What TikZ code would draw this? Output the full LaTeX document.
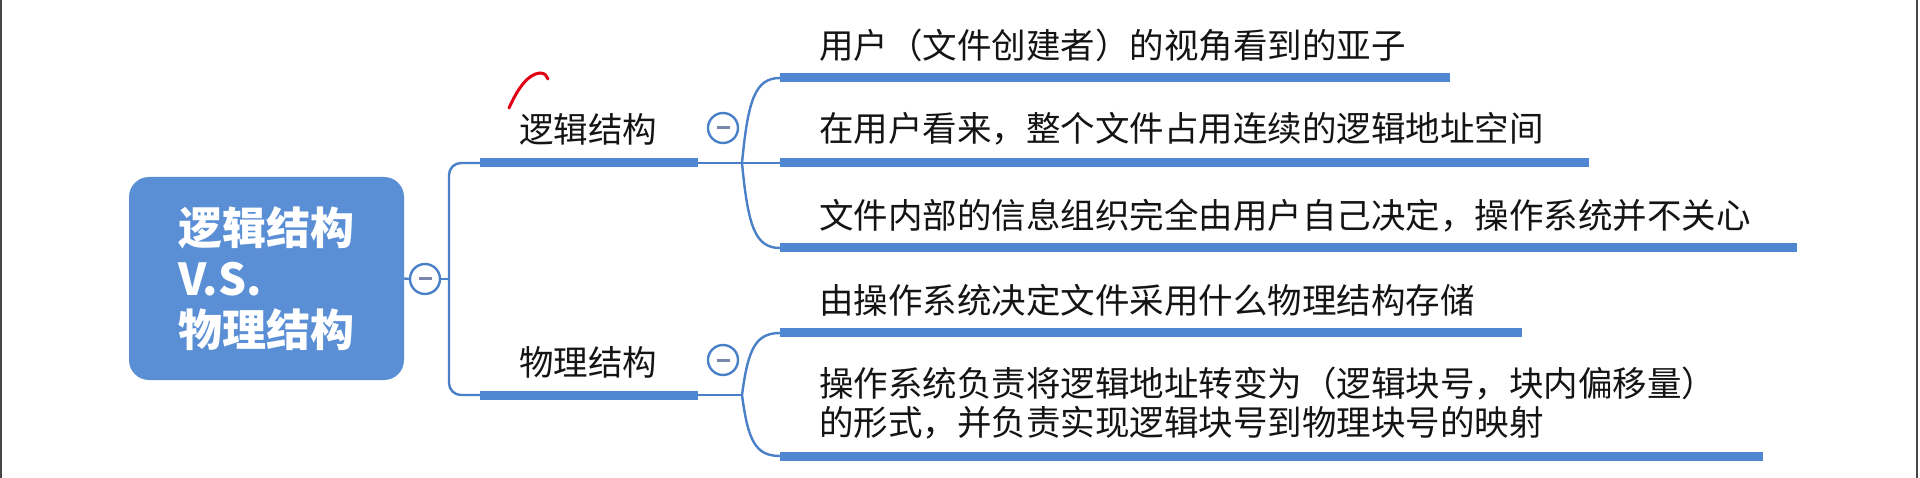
\documentclass[tikz,border=0pt]{standalone}
\usepackage{fontspec}
\setmainfont{Noto Sans CJK SC}
\definecolor{lineblue}{RGB}{74,128,200}
\definecolor{barblue}{RGB}{79,135,210}
\definecolor{rootfill}{RGB}{90,143,213}
\definecolor{minusgray}{RGB}{120,135,170}
\definecolor{textblack}{RGB}{20,20,20}
\definecolor{framegray}{RGB}{70,70,70}
\definecolor{penred}{RGB}{225,0,20}
\begin{document}
\begin{tikzpicture}[x=1pt,y=-1pt,
  link/.style={draw=lineblue, line width=2.4pt},
  bar/.style={draw=barblue, line width=9pt},
  toggle/.style={circle, draw=lineblue, line width=2.4pt, fill=white,
    minimum size=30pt, inner sep=0pt,
    path picture={\draw[minusgray, line width=3pt]
      ([xshift=-6.5pt]path picture bounding box.center) -- ([xshift=6.5pt]path picture bounding box.center);}},
  lbl/.style={anchor=base west, inner sep=0pt, text=textblack,
    font=\fontsize{34.5}{39}\selectfont},
  rootbox/.style={rectangle, rounded corners=20pt, fill=rootfill, draw=none,
    minimum width=275pt, minimum height=203pt, align=left, text=white,
    font=\fontsize{44}{51}\selectfont\bfseries},
]
\useasboundingbox (0,0) rectangle (1920,478);
\fill[white] (0,0) rectangle (1920,478);
% frame
\draw[framegray, line width=2pt] (1,0) -- (1,478);
\draw[framegray, line width=2pt] (1917,0) -- (1917,478);

% root
\node[rootbox] (root) at (266.5,278.5) {逻辑结构\\V.S.\\物理结构};
\node[toggle] (c0) at (425,279) {};
\coordinate (j0) at (449,279);

% level 1 coordinates
\coordinate (a0) at (480,163);
\coordinate (a1) at (698,163);
\coordinate (ja) at (742,163);
\coordinate (b0) at (480,395);
\coordinate (b1) at (698,395);
\coordinate (jb) at (742,395);

\draw[link] (root.east) -- (c0.west);
\draw[link] (c0.east) -- (j0);
\draw[link, rounded corners=12pt] (a0) -- (j0 |- a0) -- (j0 |- b0) -- (b0);
\draw[bar] (a0) -- (a1);
\draw[bar] (b0) -- (b1);

\node[lbl] (la) at (519,143) {逻辑结构};
\node[lbl] (lb) at (519,375) {物理结构};
\node[toggle] (c1) at (723,128) {};
\node[toggle] (c2) at (723,360) {};

% level 2 coordinates (upper group)
\coordinate (s1) at (780,78);   \coordinate (e1) at (1450,78);
\coordinate (s2) at (780,163);  \coordinate (e2) at (1589,163);
\coordinate (s3) at (780,248);  \coordinate (e3) at (1797,248);
% lower group
\coordinate (s4) at (780,333);  \coordinate (e4) at (1522,333);
\coordinate (s5) at (780,456);  \coordinate (e5) at (1763,456);

\draw[link] (a1) -- (ja) -- (s2);
\draw[link] (ja) .. controls +(6,-63) and +(-25,0) .. (s1);
\draw[link] (ja) .. controls +(6,63) and +(-25,0) .. (s3);
\draw[link] (b1) -- (jb);
\draw[link] (jb) .. controls +(6,-45) and +(-25,0) .. (s4);
\draw[link] (jb) .. controls +(6,45) and +(-25,0) .. (s5);

\draw[bar] (s1) -- (e1);
\draw[bar] (s2) -- (e2);
\draw[bar] (s3) -- (e3);
\draw[bar] (s4) -- (e4);
\draw[bar] (s5) -- (e5);

% texts
\node[lbl] (t1) at (819,59) {用户（文件创建者）的视角看到的亚子};
\node[lbl] (t2) at (819,142) {在用户看来，整个文件占用连续的逻辑地址空间};
\node[lbl] (t3) at (819,229) {文件内部的信息组织完全由用户自己决定，操作系统并不关心};
\node[lbl] (t4) at (819,314) {由操作系统决定文件采用什么物理结构存储};
\node[lbl] (t5a) at (819,396) {操作系统负责将逻辑地址转变为（逻辑块号，块内偏移量）};
\node[lbl] (t5b) at (819,435) {的形式，并负责实现逻辑块号到物理块号的映射};

% red pen mark
\draw[penred, line width=3pt, line cap=round]
  (509,108) .. controls (518,88) and (528,74) .. (540,73)
  .. controls (545,73) and (547,76) .. (548,79);
\end{tikzpicture}
\end{document}
